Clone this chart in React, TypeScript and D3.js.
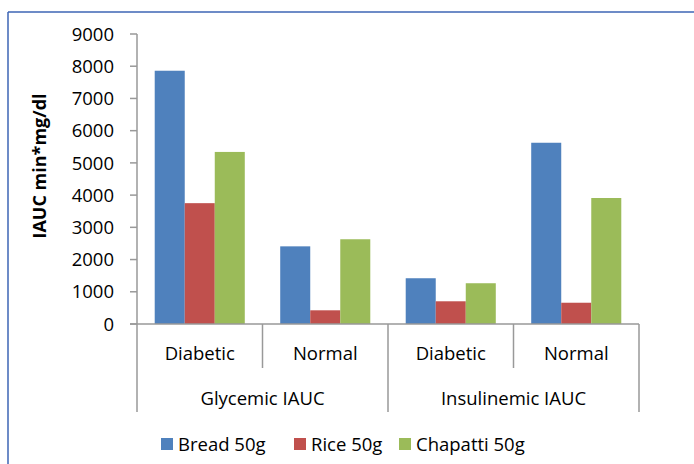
import React from "react";
import * as d3 from "d3";

const groups = ["Glycemic IAUC", "Insulinemic IAUC"];
const subgroups = ["Diabetic", "Normal"];
const categories = ["Glycemic IAUC|Diabetic", "Glycemic IAUC|Normal", "Insulinemic IAUC|Diabetic", "Insulinemic IAUC|Normal"];
const seriesNames = ["Bread 50g", "Rice 50g", "Chapatti 50g"];
const seriesColors = ["#4F81BD", "#C0504D", "#9BBB59"];
const bread = [7860, 2410, 1420, 5625];
const rice = [3750, 425, 705, 660];
const chapatti = [5340, 2630, 1265, 3910];
const yTicks = [0, 1000, 2000, 3000, 4000, 5000, 6000, 7000, 8000, 9000];

const W = 694;
const H = 464;
const FONT = "'Open Sans', 'Noto Sans', sans-serif";

export default function App() {
  const values = [bread, rice, chapatti];
  const x = d3.scaleBand<string>().domain(categories).range([137, 639]).paddingInner(0).paddingOuter(0);
  const xs = d3.scaleBand<string>().domain(seriesNames).range([0, x.bandwidth()]).paddingInner(0).paddingOuter(0.59);
  const y = d3.scaleLinear().domain([0, 9000]).range([324, 34]);
  const axisColor = "#999999";
  const groupWidth = x.bandwidth() * subgroups.length;

  const legendX = [161, 294, 399];

  return (
    <svg width={W} height={H} style={{ position: "absolute", left: 0, top: 0, background: "#fff" }} fontFamily={FONT}>
      {/* frame */}
      <line x1={8} y1={12} x2={W} y2={12} stroke="#3C64B4" strokeWidth={1.5} />
      <line x1={8} y1={12} x2={8} y2={H} stroke="#3C64B4" strokeWidth={1.5} />

      {/* bars */}
      {categories.map((c, ci) =>
        seriesNames.map((s, si) => (
          <rect
            key={c + s}
            x={(x(c) ?? 0) + (xs(s) ?? 0)}
            y={y(values[si][ci])}
            width={xs.bandwidth()}
            height={y(0) - y(values[si][ci])}
            fill={seriesColors[si]}
          />
        ))
      )}

      {/* y axis */}
      <line x1={137} y1={y(9000)} x2={137} y2={412} stroke={axisColor} strokeWidth={1.5} />
      {yTicks.map((t) => (
        <g key={t}>
          <line x1={130} x2={137} y1={y(t)} y2={y(t)} stroke={axisColor} strokeWidth={1.5} />
          <text x={114} y={y(t)} dy="0.36em" textAnchor="end" fontSize={18.5} fill="#000">
            {t}
          </text>
        </g>
      ))}
      <text
        transform="translate(40, 166) rotate(-90)"
        textAnchor="middle"
        dy="0.36em"
        fontSize={18}
        fontWeight="bold"
        fill="#000"
      >
        IAUC min*mg/dl
      </text>

      {/* x axis */}
      <line x1={130} x2={639} y1={y(0)} y2={y(0)} stroke={axisColor} strokeWidth={1.5} />
      {categories.map((c, ci) => {
        const x0 = x(c) ?? 0;
        const isGroupStart = ci % subgroups.length === 0;
        return (
          <g key={c}>
            {!isGroupStart && <line x1={x0} x2={x0} y1={y(0)} y2={368} stroke={axisColor} strokeWidth={1.5} />}
            <text x={x0 + x.bandwidth() / 2} y={353} dy="0.36em" textAnchor="middle" fontSize={18.5} fill="#000">
              {subgroups[ci % subgroups.length]}
            </text>
          </g>
        );
      })}
      {groups.map((g, gi) => {
        const x0 = x(categories[gi * subgroups.length]) ?? 0;
        return (
          <g key={g}>
            <line x1={x0 + groupWidth} x2={x0 + groupWidth} y1={y(0)} y2={412} stroke={axisColor} strokeWidth={1.5} />
            <text x={x0 + groupWidth / 2} y={398} dy="0.36em" textAnchor="middle" fontSize={18.5} fill="#000">
              {g}
            </text>
          </g>
        );
      })}

      {/* legend */}
      {seriesNames.map((s, si) => (
        <g key={s} transform={`translate(${legendX[si]}, 444)`}>
          <rect x={0} y={-6} width={12} height={12} fill={seriesColors[si]} />
          <text x={17} y={0} dy="0.36em" fontSize={18.5} fill="#000">
            {s}
          </text>
        </g>
      ))}
    </svg>
  );
}
